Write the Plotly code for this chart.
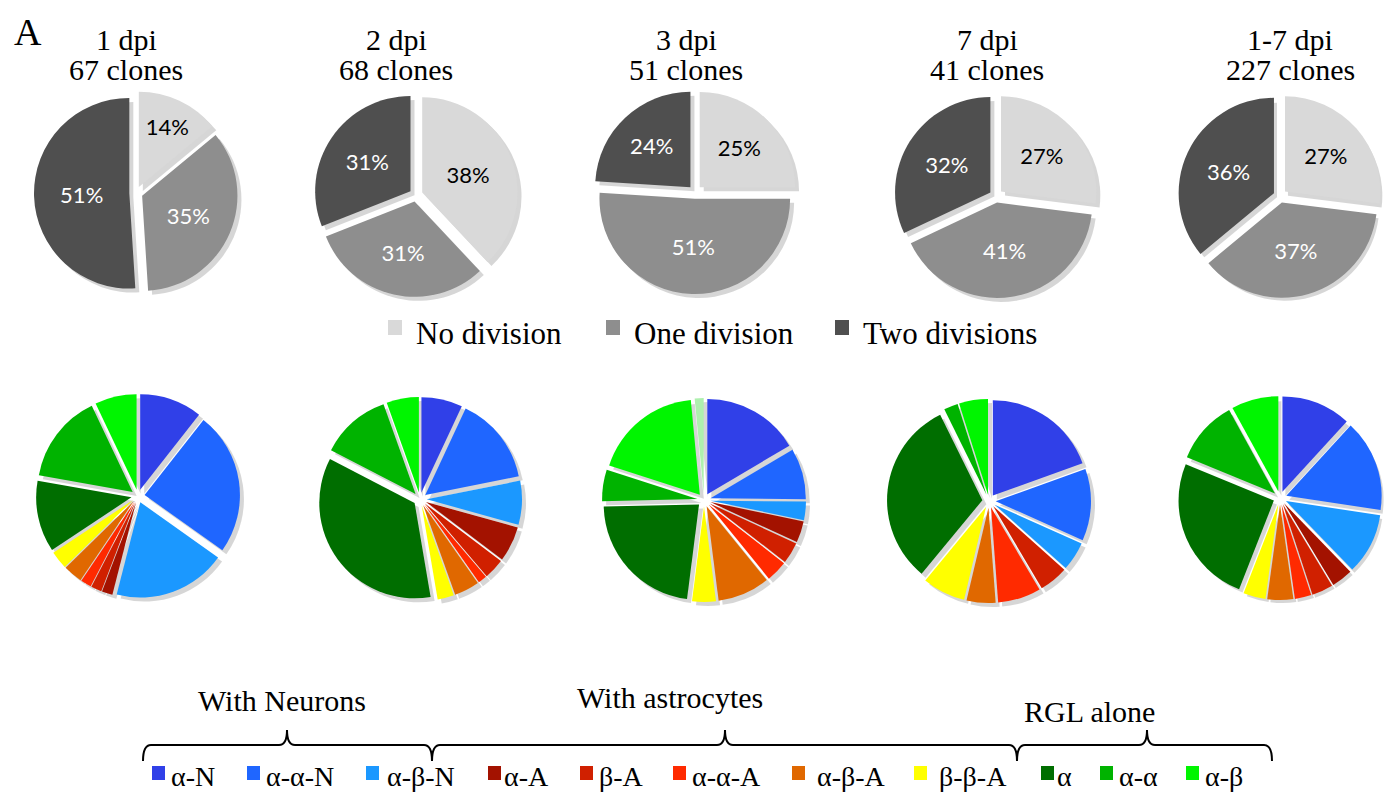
import plotly.graph_objects as go

# ---- data -------------------------------------------------------------
timepoints = ["1 dpi", "2 dpi", "3 dpi", "7 dpi", "1-7 dpi"]
clone_counts = ["67 clones", "68 clones", "51 clones", "41 clones", "227 clones"]

division_labels = ["No division", "One division", "Two divisions"]
no_division = [14, 38, 25, 27, 27]
one_division = [35, 31, 51, 41, 37]
two_divisions = [51, 31, 24, 32, 36]

fate_labels = ["α-N", "α-α-N", "α-β-N", "α-A", "β-A", "α-α-A",
               "α-β-A", "β-β-A", "α", "α-α", "α-β", "β-β"]
# percentage of clones per fate, one list per time point
fate_1dpi = [10.5, 24.0, 19.0, 1.8, 1.8, 1.8, 3.2, 3.0, 12.0, 15.0, 7.0, 0]
fate_2dpi = [7.0, 15.0, 7.5, 6.0, 3.5, 1.5, 4.3, 2.8, 35.5, 12.0, 5.5, 0]
fate_3dpi = [16.4, 8.6, 3.1, 3.6, 3.6, 3.6, 8.8, 4.0, 22.5, 5.3, 18.4, 1.5]
fate_7dpi = [19.5, 12.2, 4.9, 0, 4.9, 7.3, 4.9, 7.3, 31.7, 2.4, 4.9, 0]
fate_all = [11.8, 15.6, 10.4, 3.6, 3.6, 2.8, 4.4, 3.8, 25.3, 10.8, 8.0, 0]

group_labels = ["With Neurons", "With astrocytes", "RGL alone"]

# ---- styling ----------------------------------------------------------
W, H = 1384, 801
gray_colors = ["#d9d9d9", "#8e8e8e", "#4f4f4f"]
gray_text = ["black", "white", "white"]
fate_colors = ["#3040e8", "#1f66ff", "#1b98ff", "#a31200", "#d02000", "#ff2a00",
               "#e06800", "#ffff00", "#006e00", "#00b300", "#00f500", "#aef0ae"]
serif = "Liberation Serif"

top_centers = [(136, 193), (416, 195), (695, 192), (996, 196), (1280, 196)]
bottom_centers = [(138, 496), (420, 499), (704, 500), (989, 501), (1280, 498)]
title_x = [126, 396, 686, 987, 1290]
R = 102
PULL = 0.07


def dom(cx, cy, dx=0, dy=0):
    cx, cy = cx + dx, cy + dy
    return dict(x=[max(0, (cx - R) / W), min(1, (cx + R) / W)],
                y=[max(0, 1 - (cy + R) / H), min(1, 1 - (cy - R) / H)])


fig = go.Figure()

# grey division pies (soft offset shadow first, then the pie itself)
for i in range(len(timepoints)):
    vals = [no_division[i], one_division[i], two_divisions[i]]
    cx, cy = top_centers[i]
    fig.add_trace(go.Pie(values=vals, labels=division_labels, sort=False,
                         direction="clockwise", rotation=0, pull=PULL,
                         marker=dict(colors=["rgba(0,0,0,0.16)"] * 3),
                         textinfo="none", hoverinfo="skip", showlegend=False,
                         domain=dom(cx, cy, 4, 4)))
    fig.add_trace(go.Pie(values=vals, labels=division_labels, sort=False,
                         direction="clockwise", rotation=0, pull=PULL,
                         marker=dict(colors=gray_colors),
                         texttemplate="%{percent:.0%}", textposition="inside",
                         insidetextorientation="horizontal",
                         textfont=dict(family="Lato", size=22, color=gray_text),
                         showlegend=False, domain=dom(cx, cy)))

# coloured fate pies
fate_sets = [fate_1dpi, fate_2dpi, fate_3dpi, fate_7dpi, fate_all]
for i, vals in enumerate(fate_sets):
    cx, cy = bottom_centers[i]
    fig.add_trace(go.Pie(values=vals, labels=fate_labels, sort=False,
                         direction="clockwise", rotation=0, pull=PULL,
                         marker=dict(colors=["rgba(0,0,0,0.16)"] * len(vals)),
                         textinfo="none", hoverinfo="skip", showlegend=False,
                         domain=dom(cx, cy, 4, 4)))
    fig.add_trace(go.Pie(values=vals, labels=fate_labels, sort=False,
                         direction="clockwise", rotation=0, pull=PULL,
                         marker=dict(colors=fate_colors),
                         textinfo="none", showlegend=False, domain=dom(cx, cy)))

annotations = []
shapes = []


def text(x, y, s, size, anchor="center"):
    annotations.append(dict(x=x, y=y, xref="x", yref="y", text=s, showarrow=False,
                            xanchor=anchor, yanchor="middle",
                            font=dict(family=serif, size=size, color="black")))


text(28, 32, "A", 38)
for i in range(len(timepoints)):
    text(title_x[i], 39, timepoints[i], 30)
    text(title_x[i], 69, clone_counts[i], 30)

# division legend
div_sq_x = [388, 606, 835]
for lab, col, x in zip(division_labels, gray_colors, div_sq_x):
    shapes.append(dict(type="rect", xref="x", yref="y", x0=x, x1=x + 14, y0=320, y1=335,
                       fillcolor=col, line=dict(width=0)))
    text(x + 26, 333, lab, 31, "left")

# fate legend
fate_sq_x = [152, 247, 366, 488, 580, 673, 792, 914, 1041, 1100, 1186]
fate_txt_x = [169, 264, 385, 502, 597, 690, 815, 937, 1055, 1117, 1203]
for k, (sx, tx) in enumerate(zip(fate_sq_x, fate_txt_x)):
    shapes.append(dict(type="rect", xref="x", yref="y", x0=sx, x1=sx + 13, y0=766, y1=780,
                       fillcolor=fate_colors[k], line=dict(width=0)))
    text(tx, 776, fate_labels[k], 28, "left")

# group braces
braces = [(143, 287, 432), (432, 725, 1017), (1017, 1147, 1272)]
yl, ye, yt = 745, 761, 730
for x0, xc, x1 in braces:
    path = (f"M {x0},{ye} Q {x0},{yl} {x0+8},{yl} L {xc-8},{yl} "
            f"Q {xc},{yl} {xc},{yt} Q {xc},{yl} {xc+8},{yl} "
            f"L {x1-8},{yl} Q {x1},{yl} {x1},{ye}")
    shapes.append(dict(type="path", xref="x", yref="y", path=path,
                       line=dict(color="black", width=2)))
group_pos = [(282, 700), (670, 697), (1089, 711)]
for lab, (x, y) in zip(group_labels, group_pos):
    text(x, y, lab, 30)

fig.update_layout(
    width=W, height=H, margin=dict(l=0, r=0, t=0, b=0),
    paper_bgcolor="white", plot_bgcolor="white",
    xaxis=dict(range=[0, W], visible=False, domain=[0, 1], fixedrange=True),
    yaxis=dict(range=[H, 0], visible=False, domain=[0, 1], fixedrange=True),
    annotations=annotations, shapes=shapes, showlegend=False,
)
fig.write_html("out.html")
